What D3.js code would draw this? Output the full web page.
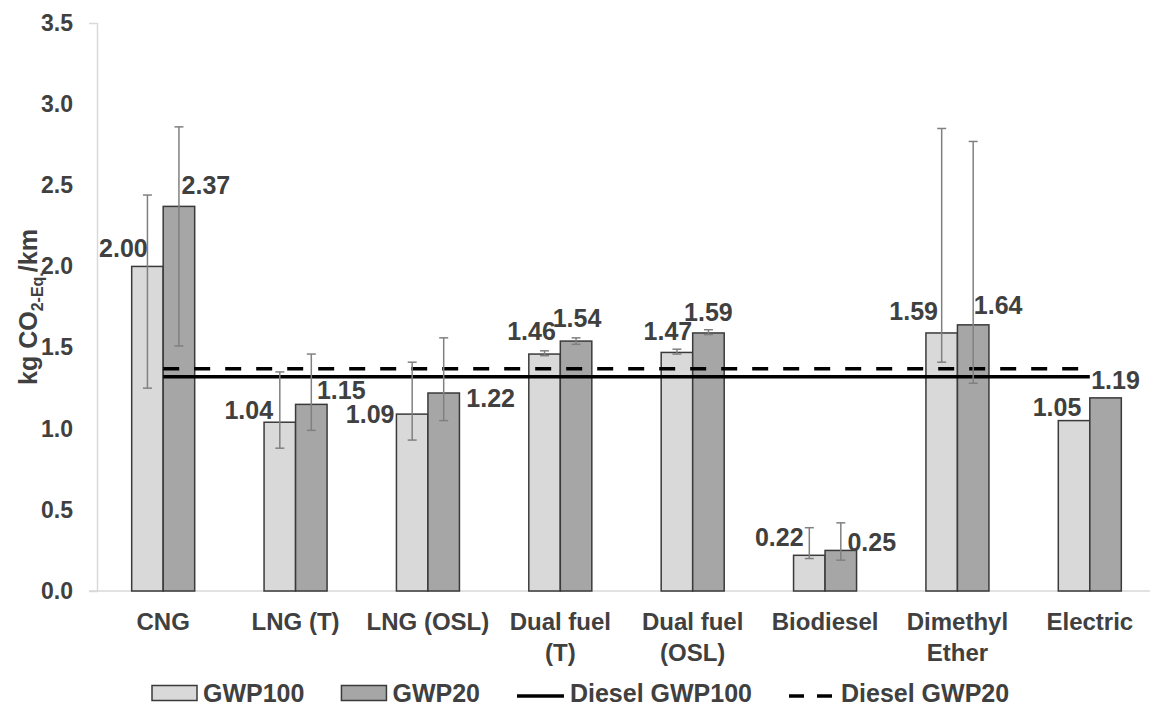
<!DOCTYPE html>
<html>
<head>
<meta charset="utf-8">
<script src="https://cdn.jsdelivr.net/npm/d3@7"></script>
<style>
  html, body { margin: 0; padding: 0; background: #ffffff; }
  svg { display: block; font-family: "Liberation Sans", Arial, sans-serif; font-weight: bold; }
</style>
</head>
<body>
<svg id="chart" width="1150" height="707"></svg>
<script>
// Fuel pathways (line breaks mark wrapped axis labels)
const categories = ["CNG", "LNG (T)", "LNG (OSL)", "Dual fuel\n(T)", "Dual fuel\n(OSL)", "Biodiesel", "Dimethyl\nEther", "Electric"];

// Emissions per km, kg CO2-eq.
const gwp100 = [2.00, 1.04, 1.09, 1.46, 1.47, 0.22, 1.59, 1.05];
const gwp20  = [2.37, 1.15, 1.22, 1.54, 1.59, 0.25, 1.64, 1.19];

// Uncertainty ranges (null = no range reported)
const gwp100Low  = [1.25, 0.88, 0.93, 1.45, 1.46, 0.20, 1.41, null];
const gwp100High = [2.44, 1.35, 1.41, 1.48, 1.49, 0.39, 2.85, null];
const gwp20Low   = [1.51, 0.99, 1.05, 1.52, 1.58, 0.19, 1.28, null];
const gwp20High  = [2.86, 1.46, 1.56, 1.56, 1.61, 0.42, 2.77, null];

// Diesel reference levels
const dieselGwp100 = 1.32;
const dieselGwp20  = 1.37;

const yTicks = [0, 0.5, 1.0, 1.5, 2.0, 2.5, 3.0, 3.5];
const legendLabels = ["GWP100", "GWP20", "Diesel GWP100", "Diesel GWP20"];

// Hand-placed value label offsets (px from the top-centre of each bar)
const nudge100 = [[-24, -18], [-31, -12], [-42, 0], [-13, -23], [-9, -21], [-30, -18], [-28, -22], [-17, -14]];
const nudge20  = [[27, -21], [30, -14], [47, 5], [1, -23], [0, -21], [31, -8], [25, -20], [10, -18]];

const svg = d3.select("#chart");
const textColor = "#404040";
const fillLight = "#d9d9d9";
const fillDark = "#a6a6a6";
const edge = "#3a3a3a";
const errColor = "#808080";

const x = d3.scaleBand().domain(categories).range([97, 1156]).paddingInner(0.524).paddingOuter(0.262);
const y = d3.scaleLinear().domain([0, 3.5]).range([591, 23]);
const bw = x.bandwidth() / 2;

// Baseline
svg.append("line")
  .attr("x1", 89).attr("x2", 1156)
  .attr("y1", y(0)).attr("y2", y(0))
  .attr("stroke", "#d9d9d9").attr("stroke-width", 1.5);

// Y axis
const yAxis = svg.append("g")
  .attr("transform", "translate(97,0)")
  .call(d3.axisLeft(y).tickValues(yTicks).tickFormat(d3.format(".1f")).tickSizeInner(0).tickSizeOuter(8).tickPadding(24));
yAxis.select(".domain").attr("stroke", "#d9d9d9").attr("stroke-width", 1.5);
yAxis.selectAll("text").attr("font-size", 23).attr("fill", textColor)
  .attr("font-family", "Liberation Sans, Arial, sans-serif").attr("font-weight", "bold");

// Y axis title
const yTitle = svg.append("text")
  .attr("transform", "translate(37,307) rotate(-90)")
  .attr("text-anchor", "middle")
  .attr("fill", textColor)
  .attr("font-size", 25);
yTitle.append("tspan").text("kg CO");
yTitle.append("tspan").attr("font-size", 16).attr("dy", 6).text("2-Eq.");
yTitle.append("tspan").attr("dy", -6).text("/km");

// X axis category labels
const xAxis = svg.append("g")
  .attr("transform", `translate(0,${y(0)})`)
  .call(d3.axisBottom(x).tickSize(0).tickFormat(""));
xAxis.select(".domain").remove();
xAxis.selectAll(".tick").each(function(d) {
  const lines = d.split("\n");
  const t = d3.select(this).append("text")
    .attr("text-anchor", "middle")
    .attr("fill", textColor)
    .attr("font-size", 24);
  lines.forEach((ln, i) => {
    t.append("tspan").attr("x", 0).attr("y", 39 + i * 31).text(ln);
  });
});

// Bars
const series = [
  { values: gwp100, low: gwp100Low, high: gwp100High, fill: fillLight, offset: 0, nudge: nudge100 },
  { values: gwp20,  low: gwp20Low,  high: gwp20High,  fill: fillDark,  offset: bw, nudge: nudge20 }
];

series.forEach(s => {
  const g = svg.append("g");
  g.selectAll("rect").data(categories).join("rect")
    .attr("x", (c) => x(c) + s.offset)
    .attr("y", (c, i) => y(s.values[i]))
    .attr("width", bw)
    .attr("height", (c, i) => y(0) - y(s.values[i]))
    .attr("fill", s.fill)
    .attr("stroke", edge)
    .attr("stroke-width", 1.5);
});

// Diesel reference lines, from the first to the last category centre
const xStart = x(categories[0]) + bw;
const xEnd = x(categories[categories.length - 1]) + bw;
svg.append("line")
  .attr("x1", xStart).attr("x2", xEnd)
  .attr("y1", y(dieselGwp100)).attr("y2", y(dieselGwp100))
  .attr("stroke", "#000").attr("stroke-width", 3.5);
svg.append("line")
  .attr("x1", xStart).attr("x2", xEnd)
  .attr("y1", y(dieselGwp20)).attr("y2", y(dieselGwp20))
  .attr("stroke", "#000").attr("stroke-width", 3.5)
  .attr("stroke-dasharray", "16,15");

// Error bars
series.forEach(s => {
  const g = svg.append("g").attr("stroke", errColor).attr("stroke-width", 1.5);
  categories.forEach((c, i) => {
    if (s.low[i] == null) return;
    const cx = x(c) + s.offset + bw / 2;
    g.append("line").attr("x1", cx).attr("x2", cx).attr("y1", y(s.low[i])).attr("y2", y(s.high[i]));
    g.append("line").attr("x1", cx - 4.5).attr("x2", cx + 4.5).attr("y1", y(s.low[i])).attr("y2", y(s.low[i]));
    g.append("line").attr("x1", cx - 4.5).attr("x2", cx + 4.5).attr("y1", y(s.high[i])).attr("y2", y(s.high[i]));
  });
});

// Value labels
series.forEach(s => {
  svg.append("g").selectAll("text").data(categories).join("text")
    .attr("x", (c, i) => x(c) + s.offset + bw / 2 + s.nudge[i][0])
    .attr("y", (c, i) => y(s.values[i]) + s.nudge[i][1])
    .attr("dy", "0.36em")
    .attr("text-anchor", "middle")
    .attr("fill", textColor)
    .attr("font-size", 25)
    .text((c, i) => d3.format(".2f")(s.values[i]));
});

// Legend
const legend = svg.append("g").attr("transform", "translate(152,693)");
let cursor = 0;
legendLabels.forEach((lab, i) => {
  const item = legend.append("g").attr("transform", `translate(${cursor},0)`);
  if (i < 2) {
    item.append("rect").attr("x", 0).attr("y", -7.5).attr("width", 45).attr("height", 15)
      .attr("fill", i === 0 ? fillLight : fillDark).attr("stroke", edge).attr("stroke-width", 1.5);
  } else {
    item.append("line").attr("x1", 0).attr("x2", i === 2 ? 47 : 43).attr("y1", 3).attr("y2", 3)
      .attr("stroke", "#000").attr("stroke-width", 3.5)
      .attr("stroke-dasharray", i === 3 ? "15,13" : null);
  }
  const tx = i < 2 ? 51 : (i === 2 ? 53 : 52);
  const t = item.append("text").attr("x", tx).attr("y", 0).attr("dy", "0.36em")
    .attr("fill", textColor).attr("font-size", 25).text(lab);
  cursor += tx + t.node().getComputedTextLength() + 37;
});
</script>
</body>
</html>
